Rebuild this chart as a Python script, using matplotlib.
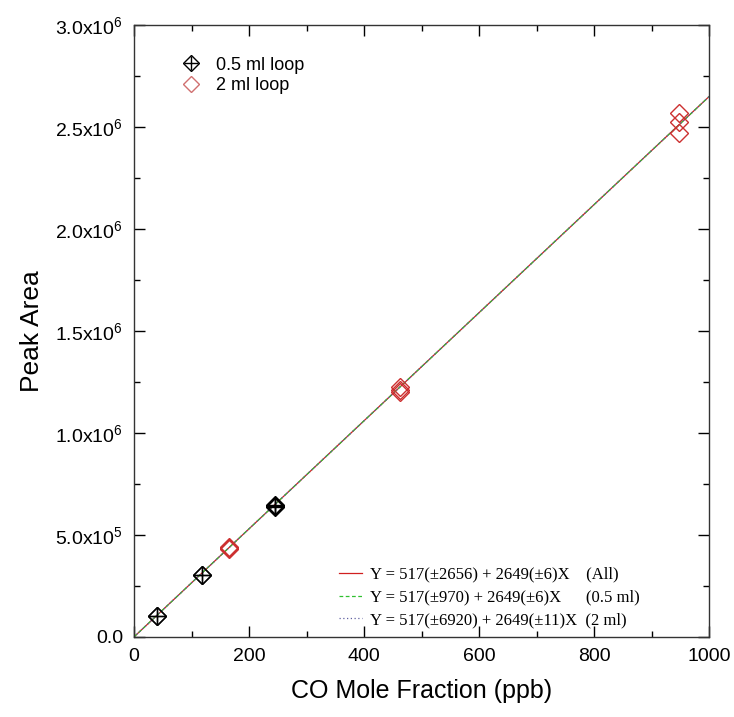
import matplotlib
matplotlib.use("Agg")
import matplotlib.pyplot as plt
import numpy as np
from matplotlib.ticker import MultipleLocator, FuncFormatter
from matplotlib.legend_handler import HandlerTuple
from matplotlib.lines import Line2D

plt.rcParams['font.family'] = ['Liberation Sans', 'DejaVu Sans']
plt.rcParams['mathtext.default'] = 'regular'

# data
x_05 = [40, 40, 118, 118, 245, 245, 245]
y_05 = [1.02e5, 1.05e5, 3.02e5, 3.05e5, 6.38e5, 6.42e5, 6.45e5]
x_2 = [165, 165, 165, 462, 462, 462, 948, 948, 948]
y_2 = [4.30e5, 4.36e5, 4.40e5, 1.200e6, 1.210e6, 1.225e6, 2.470e6, 2.525e6, 2.570e6]
fit_intercept = 517
fit_slope = 2649
fit_x = [0, 1000]
legend_fits = ["Y = 517(\u00b12656) + 2649(\u00b16)X    (All)",
               "Y = 517(\u00b1970) + 2649(\u00b16)X      (0.5 ml)",
               "Y = 517(\u00b16920) + 2649(\u00b111)X  (2 ml)"]

fig = plt.figure(figsize=(7.34, 7.17), dpi=100)
ax = fig.add_axes([0.1826, 0.1116, 0.7834, 0.8534])

fx = np.array(fit_x, dtype=float)
fy = fit_intercept + fit_slope * fx
l1, = ax.plot(fx, fy, color='#d02020', lw=0.9, ls='-')
l2, = ax.plot(fx, fy, color='#30c030', lw=0.9, ls=(0, (3, 2)))
l3, = ax.plot(fx, fy, color='#6060a0', lw=0.9, ls=(0, (1, 2)))

ax.plot(x_2, y_2, ls='none', marker='D', ms=9, mfc='none', mec='#cc3030', mew=1.0)
ax.plot(x_05, y_05, ls='none', marker='D', ms=9, mfc='none', mec='black', mew=1.0)
ax.plot(x_05, y_05, ls='none', marker='+', ms=11, mec='black', mew=1.0)

ax.set_xlim(0, 1000)
ax.set_ylim(0, 3.0e6)
ax.xaxis.set_major_locator(MultipleLocator(200))
ax.xaxis.set_minor_locator(MultipleLocator(100))
ax.yaxis.set_major_locator(MultipleLocator(0.5e6))
ax.yaxis.set_minor_locator(MultipleLocator(0.25e6))

def yfmt(v, pos):
    if abs(v) < 1:
        return '0.0'
    e = int(np.floor(np.log10(abs(v))))
    m = v / 10**e
    return r'%.1fx10$^{%d}$' % (m, e)

ax.yaxis.set_major_formatter(FuncFormatter(yfmt))
ax.tick_params(which='both', direction='in', top=True, right=True, labelsize=14, color='black')
ax.tick_params(which='major', length=8, width=1, pad=8)
ax.tick_params(which='minor', length=4, width=1)
for s in ax.spines.values():
    s.set_linewidth(1.0)
    s.set_color('#333333')

ax.set_xlabel('CO Mole Fraction (ppb)', fontsize=18, labelpad=10)
ax.set_ylabel('Peak Area', fontsize=19, labelpad=8)

h05_d = Line2D([], [], ls='none', marker='D', ms=8, mfc='none', mec='black', mew=1.0)
h05_p = Line2D([], [], ls='none', marker='+', ms=10, mec='black', mew=1.0)
h2 = Line2D([], [], ls='none', marker='D', ms=8, mfc='none', mec='#d07070', mew=1.0)
leg1 = ax.legend([(h05_d, h05_p), h2], ['0.5 ml loop', '2 ml loop'],
                 handler_map={tuple: HandlerTuple(ndivide=1)},
                 loc='upper left', bbox_to_anchor=(0.055, 0.975), frameon=False,
                 fontsize=13, handletextpad=0.9, labelspacing=0.2, handlelength=1.0)
ax.add_artist(leg1)

leg2 = ax.legend([l1, l2, l3], legend_fits, loc='lower left',
                 bbox_to_anchor=(0.33, -0.01), frameon=False,
                 prop={'family': 'Liberation Serif', 'size': 12},
                 handlelength=1.4, handletextpad=0.5, labelspacing=0.4)

fig.savefig('out.png', dpi=100)
